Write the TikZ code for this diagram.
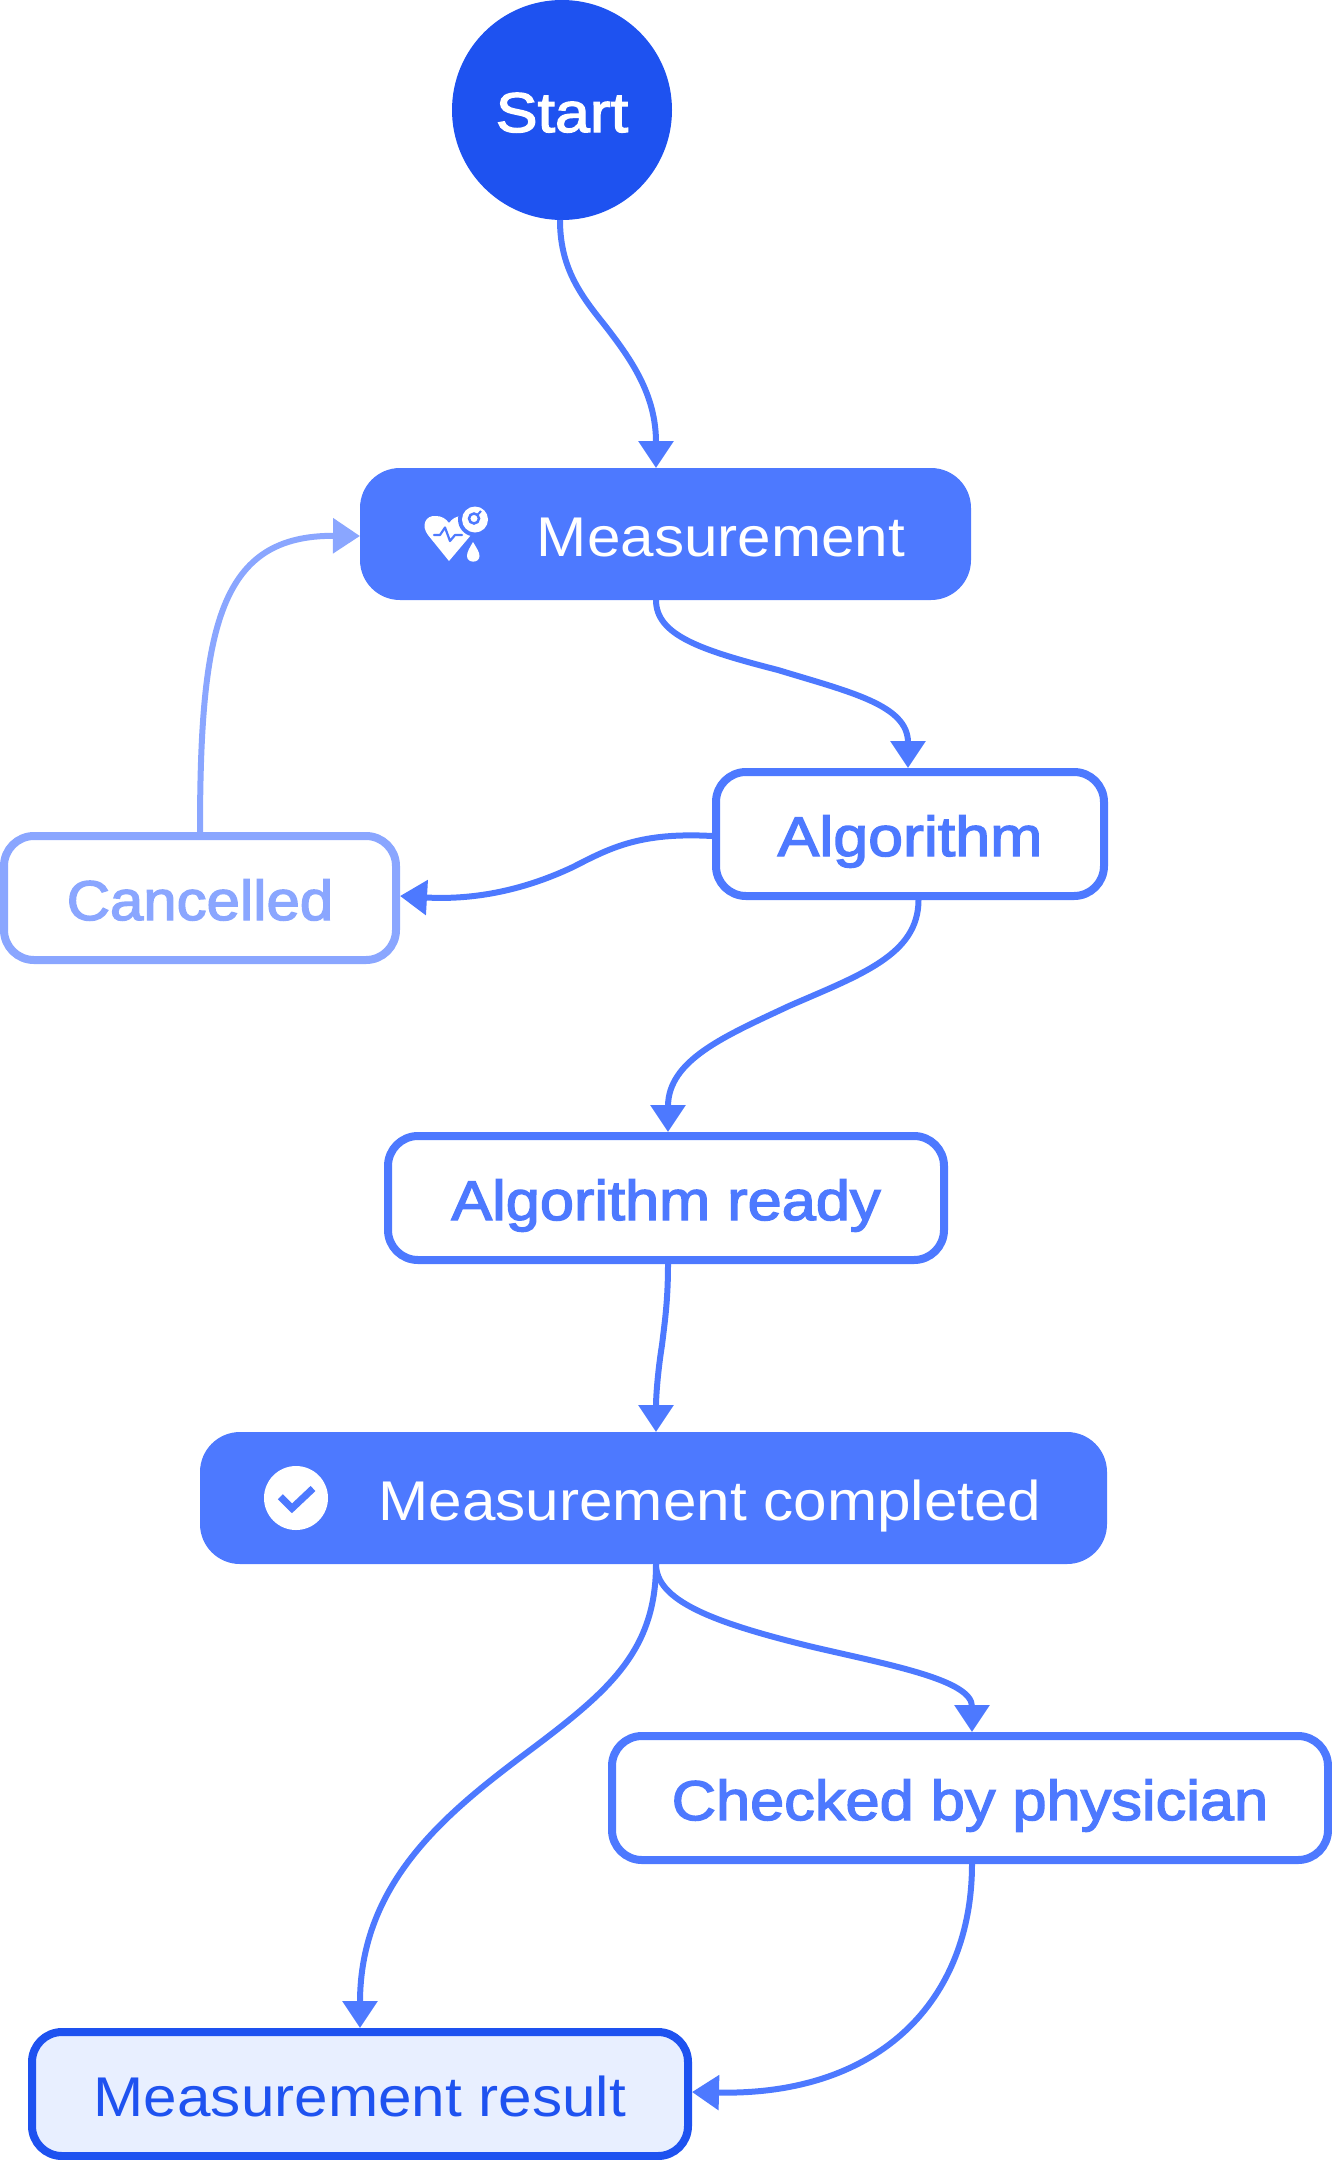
\documentclass[tikz,border=0pt]{standalone}
\usepackage{fontspec}
\usetikzlibrary{arrows.meta}
\newfontfamily\regfont[FakeStretch=1.076]{Liberation Sans}
\newfontfamily\semiwide[FakeBold=2.5,FakeStretch=1.12]{Liberation Sans}
\newfontfamily\semifont[FakeBold=2.5,FakeStretch=1.095]{Liberation Sans}
\newfontfamily\seminarrow[FakeBold=2.5,FakeStretch=1.07]{Liberation Sans}
\definecolor{deep}{HTML}{1E52F0}
\definecolor{mid}{HTML}{4D79FF}
\definecolor{pale}{HTML}{8AA6FF}
\definecolor{tint}{HTML}{E8EFFF}
\tikzset{
  lbl/.style={text height=44pt,text depth=0pt,inner sep=0pt,outer sep=0pt,font=\fontsize{56}{60}\selectfont},
  filledbox/.style={rectangle,rounded corners=40pt,fill=mid,draw=none,inner sep=0pt,outer sep=0pt},
  outlinebox/.style={rectangle,rounded corners=30pt,draw=mid,line width=8pt,fill=white,inner sep=0pt,text=mid,lbl,outer sep=4pt,minimum height=124pt},
  link/.style={draw=mid,line width=6pt,-{Triangle[length=27pt,width=34pt]}},
  palelink/.style={draw=pale,line width=6pt,-{Triangle[length=27pt,width=34pt]}},
}
\begin{document}
\begin{tikzpicture}[x=1pt,y=-1pt]
\useasboundingbox (0,0) rectangle (1332,2160);
% nodes
\node[circle,fill=deep,minimum size=220pt,text=white,lbl] (start) at (562,110) {\semiwide Start};
\node[filledbox,minimum width=611pt,minimum height=132pt] (measure) at (665.5,534) {};
\node[lbl,text=white] (measuretext) at (721,534) {\regfont Measurement};
\node[outlinebox,minimum width=388pt] (alg) at (910,834) {\semiwide Algorithm};
\node[outlinebox,draw=pale,text=pale,minimum width=392pt] (cancel) at (200,898) {\seminarrow Cancelled};
\node[outlinebox,minimum width=556pt] (ready) at (666,1198) {\semifont Algorithm ready};
\node[filledbox,minimum width=907pt,minimum height=132pt] (done) at (653.5,1498) {};
\node[lbl,text=white] (donetext) at (710,1498) {\regfont Measurement completed};
\node[outlinebox,minimum width=716pt] (phys) at (970,1798) {\semifont Checked by physician};
\node[outlinebox,draw=deep,fill=tint,text=deep,minimum width=656pt] (result) at (360,2094) {\regfont Measurement result};
% heart icon
\fill[white] (449,561) -- (428,535) .. controls (421,526) and (425,515) .. (436,516) .. controls (442,516) and (446,519) .. (449,523) .. controls (452,519) and (456,516) .. (462,516) .. controls (472,516) and (478,526) .. (471,535) -- cycle;
\fill[mid] (475,519.5) circle (17pt);
\fill[white] (475,519.5) circle (13pt);
\draw[mid,line width=2.5pt] (474,518.5) circle (5pt);
\draw[mid,line width=2pt] (477,515.5) -- (481,511);
\draw[mid,line width=2.2pt,line cap=round,line join=round] (434,535) -- (440,535) -- (445,527.5) -- (450,541) -- (455,535) -- (462,535);
\fill[white] (473,542) .. controls (469.5,548) and (467,552) .. (467,556) .. controls (467,563.5) and (479.5,563.5) .. (479.5,556) .. controls (479.5,552) and (476.5,548) .. (473,542) -- cycle;
% check icon
\fill[white] (296,1498) circle (32pt);
\draw[mid,line width=7pt] (280.3,1496.7) -- (292,1508.3) -- (313,1488.5);
% connectors
\draw[link] ([xshift=-2pt]start.south) .. controls (560,265) and (578,292) .. (603,323) .. controls (632,360) and (656,395) .. ([xshift=-9.5pt]measure.north);
\draw[link] ([xshift=-9.5pt]measure.south) .. controls (656,635) and (700,650) .. (778,670) .. controls (850,692) and (908,705) .. ([xshift=-2pt]alg.north);
\draw[link] ([yshift=-2pt]alg.west) .. controls (640,832) and (610,848) .. (573,867) .. controls (520,892) and (470,900) .. ([yshift=2pt]cancel.east);
\draw[palelink] (cancel.north) .. controls (200,625) and (220,535) .. ([yshift=-2pt]measure.west);
\draw[link] ([xshift=8.5pt]alg.south) .. controls (918.5,955) and (860,975) .. (789,1006) .. controls (725,1036) and (668,1060) .. ([xshift=2pt]ready.north);
\draw[link] ([xshift=2pt]ready.south) .. controls (668,1300) and (665,1320) .. (662,1345) .. controls (658,1370) and (656,1395) .. ([xshift=2.5pt]done.north);
\draw[link] ([xshift=2.5pt]done.south) .. controls (656,1650) and (610,1690) .. (533,1748) .. controls (450,1810) and (360,1880) .. (result.north);
\draw[link] ([xshift=2.5pt]done.south) .. controls (656,1600) and (710,1622) .. (813,1647) .. controls (890,1665) and (972,1680) .. ([xshift=2pt]phys.north);
\draw[link] ([xshift=2pt]phys.south) .. controls (972,2000) and (880,2096) .. ([yshift=2pt]result.east);
\end{tikzpicture}
\end{document}
